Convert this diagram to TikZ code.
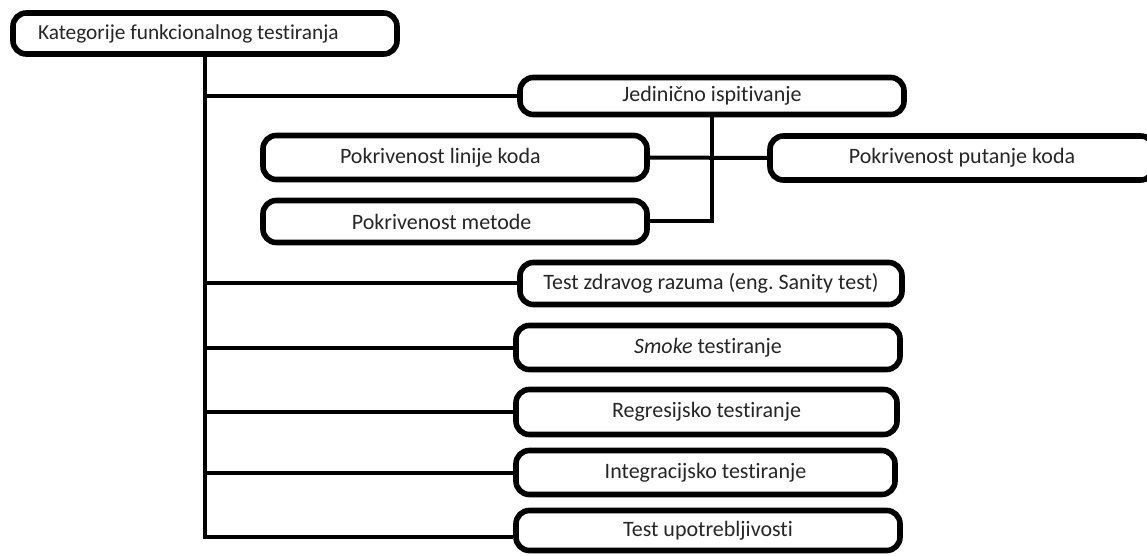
\documentclass[tikz,border=0pt]{standalone}
\usepackage{fontspec}
\setmainfont{Carlito}[Ligatures=NoCommon]
\frenchspacing
\begin{document}
\begin{tikzpicture}[x=0.75pt,y=-0.75pt,
  box/.style={draw=black, line width=4.2pt, rounded corners=10pt, fill=white,
    inner sep=0pt, text=black!85, font=\fontsize{16.5pt}{19pt}\selectfont},
  conn/.style={draw=black, line width=3pt},
  bw/.style={minimum width={#1*0.75pt}},
  bh/.style={minimum height={#1*0.75pt}}]
\useasboundingbox (0,0) rectangle (1147,556);
\fill[white] (0,0) rectangle (1147,556);
% nodes
\node[box, bw=384, bh=41] (root) at (205,33.5) {\makebox[250.5pt][l]{\fontsize{16pt}{19pt}\selectfont Kategorije funkcionalnog testiranja}};
\node[box, bw=384, bh=37] (jed) at (712,96) {Jedinično ispitivanje};
\node[box, bw=384, bh=44] (plk) at (455,157.5) {Pokrivenost linije koda\hspace*{22pt}};
\node[box, bw=384, bh=44] (ppk) at (962,158) {Pokrivenost putanje koda};
\node[box, bw=384, bh=42] (pm) at (455,221.5) {Pokrivenost metode\hspace*{20pt}};
\node[box, bw=382, bh=42] (tz) at (711,283.5) {Test zdravog razuma (eng. Sanity test)};
\node[box, bw=384, bh=44] (sm) at (708,347.5) {\textit{Smoke} testiranje};
\node[box, bw=381, bh=45] (rg) at (706.5,412) {Regresijsko testiranje};
\node[box, bw=379, bh=44] (ig) at (705.5,472.5) {Integracijsko testiranje};
\node[box, bw=384, bh=40] (tu) at (708,530.5) {Test upotrebljivosti};
% connectors
\draw[conn] (root.south) |- ([yshift=-4.9pt]tu.west);
\draw[conn] (root.south |- jed.west) -- (jed.west);
\draw[conn] (root.south |- tz.west) -- (tz.west);
\draw[conn] (root.south |- sm.west) -- (sm.west);
\draw[conn] (root.south |- rg.west) -- (rg.west);
\draw[conn] (root.south |- ig.west) -- (ig.west);
\draw[conn] (jed.south) |- (pm.east);
\draw[conn] (plk.east) -- (ppk.west);
\end{tikzpicture}
\end{document}
